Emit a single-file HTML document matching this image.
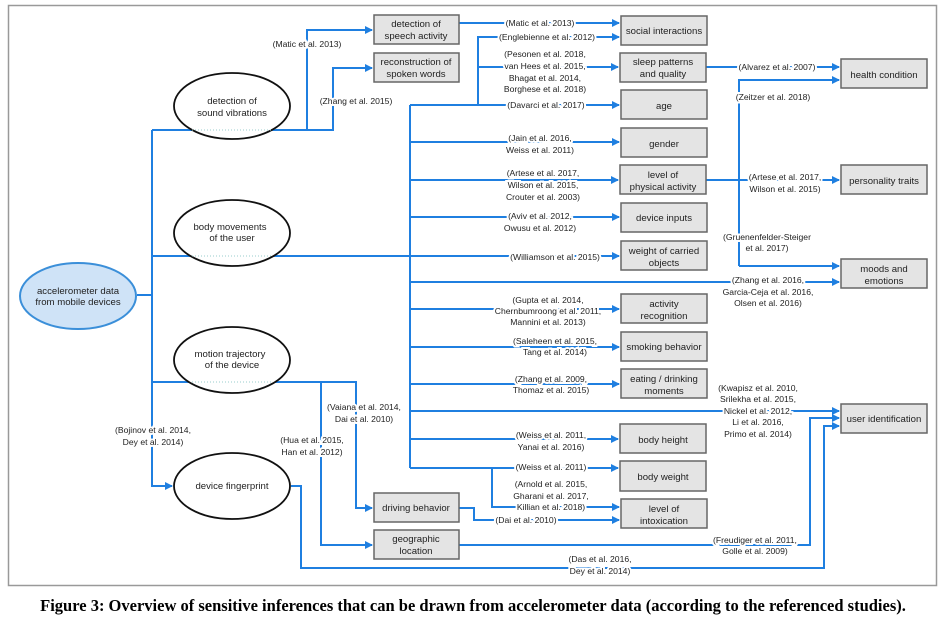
<!DOCTYPE html>
<html><head><meta charset="utf-8"><style>
body{margin:0;background:#fff;width:947px;height:627px;overflow:hidden}
svg text{font-family:"Liberation Sans",sans-serif}
.l{font-size:8.6px;fill:#222;text-anchor:middle;stroke:#fff;stroke-width:4px;paint-order:stroke}
.b{font-size:9.6px;fill:#222;text-anchor:middle}
.ln{stroke:#1f7fe0;stroke-width:2;fill:none}
.bx{fill:#e4e4e4;stroke:#666;stroke-width:1.5}
.el{fill:#fff;stroke:#111;stroke-width:1.8}
.dt{stroke:#9cc;stroke-dasharray:1,2}
</style></head><body>
<svg width="947" height="627" xmlns="http://www.w3.org/2000/svg">
<defs><marker id="a" markerWidth="8" markerHeight="8" refX="7" refY="4" orient="auto" markerUnits="userSpaceOnUse"><path d="M0,0 L8,4 L0,8 z" fill="#1f7fe0"/></marker></defs>
<rect x="8.5" y="5.5" width="928" height="580" fill="#fff" stroke="#999" stroke-width="1.5"/>

<g class="ln">
<path d="M137,295 H152 M152,130 V486 H172" marker-end="url(#a)"/>
<path d="M152,130 H333 V68 H372" marker-end="url(#a)"/>
<path d="M307,130 V30 H372" marker-end="url(#a)"/>
<path d="M459,23 H619" marker-end="url(#a)"/>
<path d="M478,105 V37 H619" marker-end="url(#a)"/>
<path d="M478,67 H618" marker-end="url(#a)"/>
<path d="M410,105 H619" marker-end="url(#a)"/>
<path d="M152,256 H619" marker-end="url(#a)"/>
<path d="M410,105 V468"/>
<path d="M410,142 H619" marker-end="url(#a)"/>
<path d="M410,180 H618" marker-end="url(#a)"/>
<path d="M410,217 H619" marker-end="url(#a)"/>
<path d="M410,282 H839" marker-end="url(#a)"/>
<path d="M410,309 H619" marker-end="url(#a)"/>
<path d="M410,347 H619" marker-end="url(#a)"/>
<path d="M410,384 H619" marker-end="url(#a)"/>
<path d="M410,411 H839" marker-end="url(#a)"/>
<path d="M410,439 H618" marker-end="url(#a)"/>
<path d="M410,468 H618" marker-end="url(#a)"/>
<path d="M492,468 V507 H619" marker-end="url(#a)"/>
<path d="M459,508 H474 V520 H619" marker-end="url(#a)"/>
<path d="M152,382 H356 V508 H372" marker-end="url(#a)"/>
<path d="M321,382 V545 H372" marker-end="url(#a)"/>
<path d="M459,545 H810 V418 H839" marker-end="url(#a)"/>
<path d="M291,486 H301 V568 H824 V426 H839" marker-end="url(#a)"/>
<path d="M706,67 H839" marker-end="url(#a)"/>
<path d="M739,266 V80 H839" marker-end="url(#a)"/>
<path d="M739,266 H839" marker-end="url(#a)"/>
<path d="M706,180 H839" marker-end="url(#a)"/>
</g>

<ellipse cx="78" cy="296" rx="58" ry="33" fill="#cfe3f7" stroke="#3b8fd9" stroke-width="2"/>
<text class="b" x="78" y="294">accelerometer data</text><text class="b" x="78" y="305">from mobile devices</text>
<ellipse class="el" cx="232" cy="106" rx="58" ry="33"/>
<line class="dt" x1="192" y1="130" x2="272" y2="130"/>
<text class="b" x="232" y="104">detection of</text><text class="b" x="232" y="116">sound vibrations</text>
<ellipse class="el" cx="232" cy="233" rx="58" ry="33"/>
<line class="dt" x1="192" y1="256" x2="272" y2="256"/>
<text class="b" x="230" y="230">body movements</text><text class="b" x="232" y="241">of the user</text>
<ellipse class="el" cx="232" cy="360" rx="58" ry="33"/>
<line class="dt" x1="192" y1="382" x2="272" y2="382"/>
<text class="b" x="230" y="357">motion trajectory</text><text class="b" x="232" y="368">of the device</text>
<ellipse class="el" cx="232" cy="486" rx="58" ry="33"/>
<text class="b" x="232" y="489">device fingerprint</text>

<g>
<rect class="bx" x="374" y="15" width="85" height="29"/><text class="b" x="416" y="27">detection of</text><text class="b" x="416" y="39">speech activity</text>
<rect class="bx" x="374" y="53" width="85" height="29"/><text class="b" x="416" y="65">reconstruction of</text><text class="b" x="416" y="77">spoken words</text>
<rect class="bx" x="621" y="16" width="86" height="29"/><text class="b" x="664" y="34">social interactions</text>
<rect class="bx" x="620" y="53" width="86" height="29"/><text class="b" x="663" y="65">sleep patterns</text><text class="b" x="663" y="77">and quality</text>
<rect class="bx" x="621" y="90" width="86" height="29"/><text class="b" x="664" y="109">age</text>
<rect class="bx" x="621" y="128" width="86" height="29"/><text class="b" x="664" y="147">gender</text>
<rect class="bx" x="620" y="165" width="86" height="29"/><text class="b" x="663" y="178">level of</text><text class="b" x="663" y="190">physical activity</text>
<rect class="bx" x="621" y="203" width="86" height="29"/><text class="b" x="664" y="221">device inputs</text>
<rect class="bx" x="621" y="241" width="86" height="29"/><text class="b" x="664" y="254">weight of carried</text><text class="b" x="664" y="266">objects</text>
<rect class="bx" x="621" y="294" width="86" height="29"/><text class="b" x="664" y="307">activity</text><text class="b" x="664" y="319">recognition</text>
<rect class="bx" x="621" y="332" width="86" height="29"/><text class="b" x="664" y="350">smoking behavior</text>
<rect class="bx" x="621" y="369" width="86" height="29"/><text class="b" x="664" y="382">eating / drinking</text><text class="b" x="664" y="394">moments</text>
<rect class="bx" x="620" y="424" width="86" height="29"/><text class="b" x="663" y="443">body height</text>
<rect class="bx" x="620" y="461" width="86" height="30"/><text class="b" x="663" y="480">body weight</text>
<rect class="bx" x="621" y="499" width="86" height="29"/><text class="b" x="664" y="512">level of</text><text class="b" x="664" y="524">intoxication</text>
<rect class="bx" x="374" y="493" width="85" height="29"/><text class="b" x="416" y="511">driving behavior</text>
<rect class="bx" x="374" y="530" width="85" height="29"/><text class="b" x="416" y="542">geographic</text><text class="b" x="416" y="554">location</text>
<rect class="bx" x="841" y="59" width="86" height="29"/><text class="b" x="884" y="78">health condition</text>
<rect class="bx" x="841" y="165" width="86" height="29"/><text class="b" x="884" y="184">personality traits</text>
<rect class="bx" x="841" y="259" width="86" height="29"/><text class="b" x="884" y="272">moods and</text><text class="b" x="884" y="284">emotions</text>
<rect class="bx" x="841" y="404" width="86" height="29"/><text class="b" x="884" y="422">user identification</text>
</g>

<g>
<text class="l" x="307" y="47">(Matic et al. 2013)</text>
<text class="l" x="356" y="104">(Zhang et al. 2015)</text>
<text class="l" x="540" y="26">(Matic et al. 2013)</text>
<text class="l" x="547" y="40">(Englebienne et al. 2012)</text>
<text class="l" x="545" y="57">(Pesonen et al. 2018,</text>
<text class="l" x="545" y="69">van Hees et al. 2015,</text>
<text class="l" x="545" y="81">Bhagat et al. 2014,</text>
<text class="l" x="545" y="92">Borghese et al. 2018)</text>
<text class="l" x="546" y="108">(Davarci et al. 2017)</text>
<text class="l" x="540" y="141">(Jain et al. 2016,</text><text class="l" x="540" y="153">Weiss et al. 2011)</text>
<text class="l" x="543" y="176">(Artese et al. 2017,</text><text class="l" x="543" y="188">Wilson et al. 2015,</text><text class="l" x="543" y="200">Crouter et al. 2003)</text>
<text class="l" x="540" y="219">(Aviv et al. 2012,</text><text class="l" x="540" y="231">Owusu et al. 2012)</text>
<text class="l" x="555" y="260">(Williamson et al. 2015)</text>
<text class="l" x="548" y="303">(Gupta et al. 2014,</text><text class="l" x="548" y="314">Chernbumroong et al. 2011,</text><text class="l" x="548" y="325">Mannini et al. 2013)</text>
<text class="l" x="555" y="344">(Saleheen et al. 2015,</text><text class="l" x="555" y="355">Tang et al. 2014)</text>
<text class="l" x="551" y="382">(Zhang et al. 2009,</text><text class="l" x="551" y="393">Thomaz et al. 2015)</text>
<text class="l" x="551" y="438">(Weiss et al. 2011,</text><text class="l" x="551" y="450">Yanai et al. 2016)</text>
<text class="l" x="551" y="470">(Weiss et al. 2011)</text>
<text class="l" x="551" y="487">(Arnold et al. 2015,</text><text class="l" x="551" y="499">Gharani et al. 2017,</text><text class="l" x="551" y="510">Killian et al. 2018)</text>
<text class="l" x="526" y="523">(Dai et al. 2010)</text>
<text class="l" x="777" y="70">(Alvarez et al. 2007)</text>
<text class="l" x="773" y="100">(Zeitzer et al. 2018)</text>
<text class="l" x="785" y="180">(Artese et al. 2017,</text><text class="l" x="785" y="192">Wilson et al. 2015)</text>
<text class="l" x="767" y="240">(Gruenenfelder-Steiger</text><text class="l" x="767" y="251">et al. 2017)</text>
<text class="l" x="768" y="283">(Zhang et al. 2016,</text><text class="l" x="768" y="295">Garcia-Ceja et al. 2016,</text><text class="l" x="768" y="306">Olsen et al. 2016)</text>
<text class="l" x="758" y="391">(Kwapisz et al. 2010,</text><text class="l" x="758" y="402">Srilekha et al. 2015,</text><text class="l" x="758" y="414">Nickel et al. 2012,</text><text class="l" x="758" y="425">Li et al. 2016,</text><text class="l" x="758" y="437">Primo et al. 2014)</text>
<text class="l" x="755" y="543">(Freudiger et al. 2011,</text><text class="l" x="755" y="554">Golle et al. 2009)</text>
<text class="l" x="600" y="562">(Das et al. 2016,</text><text class="l" x="600" y="574">Dey et al. 2014)</text>
<text class="l" x="153" y="433">(Bojinov et al. 2014,</text><text class="l" x="153" y="445">Dey et al. 2014)</text>
<text class="l" x="364" y="410">(Vaiana et al. 2014,</text><text class="l" x="364" y="422">Dai et al. 2010)</text>
<text class="l" x="312" y="443">(Hua et al. 2015,</text><text class="l" x="312" y="455">Han et al. 2012)</text>
</g>
<text x="473" y="611" text-anchor="middle" style="font-family:'Liberation Serif',serif;font-weight:bold;font-size:16.5px" fill="#000">Figure 3: Overview of sensitive inferences that can be drawn from accelerometer data (according to the referenced studies).</text>
</svg>
</body></html>
